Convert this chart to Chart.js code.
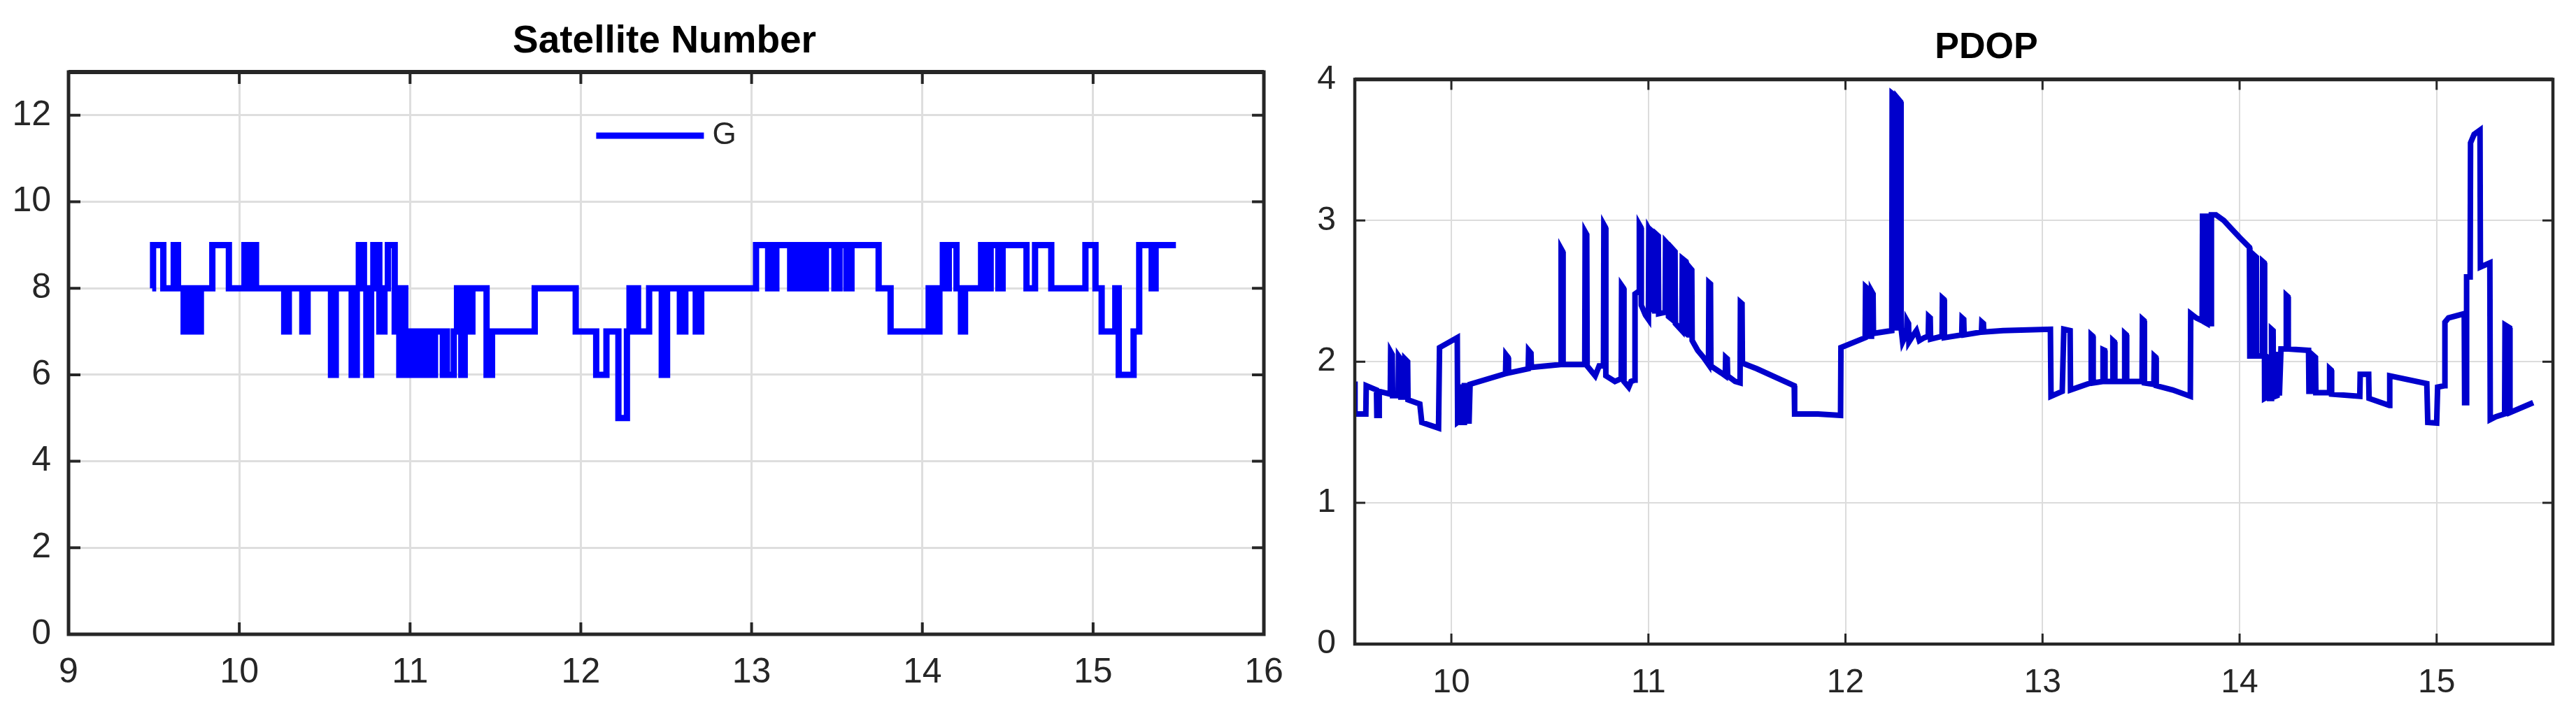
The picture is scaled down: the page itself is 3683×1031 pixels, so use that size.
<!DOCTYPE html>
<html>
<head>
<meta charset="utf-8">
<title>Satellite Number / PDOP</title>
<script src="https://cdn.jsdelivr.net/npm/chart.js@4.4.0/dist/chart.umd.min.js"></script>
<style>
  html, body { margin: 0; padding: 0; background: #fff; overflow: hidden; }
  body { width: 3683px; height: 1031px; position: relative; }
  canvas { position: absolute; top: 0; }
  #satChart { left: 0; }
  #pdopChart { left: 1830px; }
</style>
</head>
<body>
<canvas id="satChart" width="1900" height="1031"></canvas>
<canvas id="pdopChart" width="2020" height="1031"></canvas>
<script>
// satellite count (GPS), each value holds from its time until the next one
const satTime = [
  9.490, 9.495, 9.555, 9.616, 9.641, 9.674, 9.690, 9.700, 9.718, 9.728, 9.752, 9.760, 9.775, 9.842, 9.939,
  10.030, 10.045, 10.055, 10.070, 10.078, 10.098, 10.263, 10.290, 10.369, 10.400, 10.537, 10.565, 10.658, 10.688,
  10.700, 10.730, 10.744, 10.772, 10.785, 10.820, 10.850, 10.870, 10.910, 10.925, 10.937, 10.955, 10.972,
  10.991, 11.005, 11.012, 11.046, 11.064, 11.082, 11.100, 11.118, 11.126, 11.146, 11.192, 11.208, 11.216, 11.256,
  11.275, 11.300, 11.320, 11.350, 11.365, 11.448, 11.480, 11.730, 11.970,
  12.090, 12.150, 12.220, 12.270, 12.285, 12.300, 12.320, 12.335, 12.355, 12.400, 12.474, 12.505, 12.580, 12.612,
  12.673, 12.705,
  13.026, 13.097, 13.115, 13.130, 13.145, 13.226, 13.260, 13.285, 13.320, 13.344, 13.375, 13.402, 13.435, 13.485,
  13.515, 13.555, 13.585, 13.744, 13.814,
  14.037, 14.050, 14.065, 14.080, 14.100, 14.120, 14.140, 14.155, 14.200, 14.226, 14.250, 14.344, 14.378, 14.400,
  14.445, 14.470, 14.610, 14.660, 14.755, 14.955,
  15.014, 15.050, 15.130, 15.150, 15.237, 15.270, 15.343, 15.366, 15.485
];
const satCount = [
  8, 9, 8, 9, 8, 7, 8, 7, 8, 7, 8, 7, 8, 9, 8,
  9, 8, 9, 8, 9, 8, 7, 8, 7, 8, 6, 8, 6, 8,
  9, 8, 6, 8, 9, 7, 8, 9, 7, 8, 6, 8, 6,
  6, 7, 6, 7, 6, 7, 6, 7, 6, 7, 6, 7, 6, 7,
  8, 6, 8, 7, 8, 6, 7, 8, 7,
  6, 7, 5, 7, 8, 7, 8, 7, 7, 8, 6, 8, 7, 8,
  7, 8,
  9, 8, 9, 8, 9, 8, 9, 8, 9, 8, 9, 8, 9, 8,
  9, 8, 9, 8, 7,
  8, 7, 8, 7, 8, 9, 8, 9, 8, 7, 8, 9, 8, 9,
  8, 9, 8, 9, 8, 9,
  8, 7, 8, 6, 7, 9, 8, 9, 9
];
const satXTicks = [9, 10, 11, 12, 13, 14, 15, 16];
const satYTicks = [0, 2, 4, 6, 8, 10, 12];

// PDOP
const pdopTime = [
  9.510, 9.511, 9.566, 9.568, 9.620, 9.622, 9.632, 9.634, 9.690, 9.692, 9.700, 9.702, 9.730, 9.732, 9.742, 9.744,
  9.762, 9.764, 9.778, 9.780, 9.840, 9.850, 9.935, 9.940,
  10.030, 10.032, 10.042, 10.044, 10.052, 10.054, 10.064, 10.066, 10.074, 10.076, 10.090, 10.095, 10.275, 10.277,
  10.288, 10.290, 10.390, 10.392, 10.404, 10.406, 10.555, 10.557, 10.565, 10.567, 10.677, 10.679, 10.687, 10.689,
  10.730, 10.750, 10.772, 10.774, 10.782, 10.784, 10.830, 10.862, 10.864, 10.874, 10.876, 10.900, 10.912, 10.930,
  10.932, 10.952, 10.954, 10.962, 10.964, 10.985,
  11.000, 11.002, 11.010, 11.012, 11.020, 11.022, 11.030, 11.032, 11.040, 11.042, 11.050, 11.052, 11.085, 11.087,
  11.100, 11.102, 11.120, 11.122, 11.135, 11.137, 11.170, 11.172, 11.190, 11.192, 11.200, 11.202, 11.220, 11.222,
  11.250, 11.280, 11.305, 11.307, 11.315, 11.317, 11.370, 11.390, 11.392, 11.400, 11.402, 11.440, 11.465, 11.467,
  11.475, 11.477, 11.550, 11.740, 11.742, 11.860, 11.975, 11.977,
  12.100, 12.102, 12.118, 12.120, 12.130, 12.132, 12.140, 12.142, 12.235, 12.237, 12.255, 12.257, 12.262, 12.280,
  12.282, 12.290, 12.310, 12.312, 12.320, 12.322, 12.345, 12.360, 12.375, 12.400, 12.420, 12.422, 12.430, 12.432,
  12.490, 12.492, 12.500, 12.502, 12.590, 12.592, 12.600, 12.602, 12.690, 12.692, 12.700, 12.702, 12.800,
  13.040, 13.043, 13.100, 13.108, 13.140, 13.142, 13.245, 13.247, 13.255, 13.257, 13.305, 13.307, 13.315, 13.317,
  13.355, 13.357, 13.365, 13.367, 13.415, 13.417, 13.425, 13.427, 13.505, 13.507, 13.515, 13.517, 13.565, 13.567,
  13.575, 13.577, 13.660, 13.750, 13.752, 13.780, 13.810, 13.812, 13.820, 13.822, 13.835, 13.837, 13.845, 13.847,
  13.855, 13.857, 13.880, 13.920, 13.960,
  14.000, 14.050, 14.052, 14.075, 14.077, 14.085, 14.087, 14.115, 14.117, 14.125, 14.127, 14.140, 14.142, 14.150,
  14.152, 14.160, 14.162, 14.170, 14.172, 14.190, 14.192, 14.200, 14.202, 14.210, 14.235, 14.237, 14.245, 14.247,
  14.350, 14.352, 14.375, 14.377, 14.385, 14.387, 14.455, 14.457, 14.465, 14.467, 14.610, 14.612, 14.655, 14.657,
  14.760, 14.762, 14.950, 14.955,
  15.000, 15.005, 15.040, 15.042, 15.060, 15.140, 15.142, 15.150, 15.152, 15.170, 15.172, 15.190, 15.220, 15.222,
  15.270, 15.272, 15.300, 15.345, 15.347, 15.370, 15.372, 15.490
];
const pdopValue = [
  1.86, 1.63, 1.63, 1.83, 1.80, 1.62, 1.62, 1.79, 1.77, 2.07, 2.05, 1.76, 1.76, 2.04, 2.02, 1.75,
  1.75, 2.02, 2.00, 1.73, 1.70, 1.57, 1.53, 2.10,
  2.17, 1.57, 1.58, 1.82, 1.82, 1.57, 1.57, 1.83, 1.83, 1.58, 1.58, 1.84, 1.915, 2.05,
  2.03, 1.92, 1.95, 2.08, 2.06, 1.96, 1.98, 2.80, 2.78, 1.98, 1.98, 2.92, 2.90, 1.97,
  1.90, 1.97, 1.97, 2.97, 2.95, 1.90, 1.86, 1.88, 2.54, 2.52, 1.86, 1.82, 1.86, 1.87,
  2.48, 2.50, 2.97, 2.95, 2.40, 2.33,
  2.30, 2.94, 2.92, 2.38, 2.37, 2.92, 2.91, 2.36, 2.36, 2.90, 2.89, 2.34, 2.35, 2.85,
  2.83, 2.32, 2.30, 2.80, 2.78, 2.27, 2.22, 2.73, 2.71, 2.20, 2.19, 2.68, 2.65, 2.15,
  2.08, 2.03, 1.98, 2.56, 2.55, 1.97, 1.92, 1.90, 2.03, 2.02, 1.90, 1.86, 1.85, 2.42,
  2.41, 1.99, 1.95, 1.83, 1.63, 1.63, 1.62, 2.10,
  2.17, 2.53, 2.51, 2.18, 2.18, 2.50, 2.48, 2.20, 2.22, 3.90, 3.88, 2.22, 3.87, 3.84,
  2.24, 2.14, 2.20, 2.29, 2.27, 2.14, 2.19, 2.22, 2.15, 2.17, 2.18, 2.32, 2.31, 2.16,
  2.18, 2.45, 2.44, 2.17, 2.19, 2.31, 2.30, 2.19, 2.21, 2.28, 2.27, 2.21, 2.22,
  2.23, 1.755, 1.79, 2.23, 2.22, 1.80, 1.85, 2.19, 2.18, 1.85, 1.86, 2.085, 2.08, 1.86,
  1.86, 2.15, 2.14, 1.86, 1.86, 2.20, 2.19, 1.86, 1.86, 2.30, 2.29, 1.85, 1.84, 2.04,
  2.03, 1.83, 1.80, 1.755, 2.34, 2.31, 2.29, 3.03, 3.03, 2.28, 2.27, 3.03, 3.03, 2.27,
  2.27, 3.04, 3.04, 3.00, 2.94,
  2.88, 2.81, 2.04, 2.04, 2.75, 2.74, 2.04, 2.04, 2.71, 2.70, 1.74, 1.75, 2.03, 2.02,
  1.74, 1.74, 2.23, 2.22, 1.75, 1.76, 2.05, 2.05, 1.76, 2.09, 2.09, 2.47, 2.46, 2.09,
  2.08, 1.79, 1.79, 2.04, 2.03, 1.78, 1.78, 1.95, 1.94, 1.77, 1.755, 1.91, 1.91, 1.74,
  1.69, 1.90, 1.845, 1.57,
  1.565, 1.82, 1.83, 2.28, 2.31, 2.34, 1.71, 1.71, 2.60, 2.60, 3.55, 3.61, 3.64, 2.67,
  2.70, 1.59, 1.61, 1.63, 2.26, 2.24, 1.64, 1.71
];
const pdopXTicks = [10, 11, 12, 13, 14, 15];
const pdopYTicks = [0, 1, 2, 3, 4];

Chart.defaults.font.family = "'Liberation Sans', Arial, Helvetica, sans-serif";
Chart.defaults.color = '#262626';

function toPoints(xs, ys) {
    return xs.map((x, i) => ({ x: x, y: ys[i] }));
}

function fixedTicks(list) {
    return scale => { scale.ticks = list.map(v => ({ value: v })); };
}

// closed axes box with the tick marks pointing inwards on all four sides
const axesBox = {
    id: 'axesBox',
    afterDraw(chart, args, opts) {
        const { ctx, chartArea: a, scales: { x, y } } = chart;
        const len = opts.tickLength;
        ctx.save();
        ctx.strokeStyle = opts.color;
        ctx.lineWidth = opts.tickWidth;
        ctx.beginPath();
        x.ticks.forEach(t => {
            const px = x.getPixelForValue(t.value);
            ctx.moveTo(px, a.bottom); ctx.lineTo(px, a.bottom - len);
            ctx.moveTo(px, a.top); ctx.lineTo(px, a.top + len);
        });
        y.ticks.forEach(t => {
            const py = y.getPixelForValue(t.value);
            ctx.moveTo(a.left, py); ctx.lineTo(a.left + len, py);
            ctx.moveTo(a.right, py); ctx.lineTo(a.right - len, py);
        });
        ctx.stroke();
        ctx.lineWidth = opts.width;
        ctx.strokeRect(a.left, a.top, a.right - a.left, a.bottom - a.top);
        ctx.lineWidth = opts.topWidth;
        ctx.beginPath();
        ctx.moveTo(a.left, a.top); ctx.lineTo(a.right, a.top);
        ctx.stroke();
        ctx.restore();
    }
};

// legend sitting inside the plot, line sample + label
const lineLegend = {
    id: 'lineLegend',
    afterDraw(chart, args, opts) {
        const ds = chart.data.datasets[0];
        const { ctx, chartArea: a } = chart;
        ctx.save();
        ctx.font = opts.size + 'px ' + Chart.defaults.font.family;
        const textW = ctx.measureText(ds.label).width;
        const x0 = (a.left + a.right) / 2 - (opts.lineLength + opts.gap + textW) / 2;
        const yc = a.top + opts.offsetY;
        ctx.strokeStyle = ds.borderColor;
        ctx.lineWidth = ds.borderWidth;
        ctx.beginPath();
        ctx.moveTo(x0, yc);
        ctx.lineTo(x0 + opts.lineLength, yc);
        ctx.stroke();
        ctx.fillStyle = opts.color;
        ctx.textAlign = 'left';
        ctx.textBaseline = 'middle';
        ctx.fillText(ds.label, x0 + opts.lineLength + opts.gap, yc);
        ctx.restore();
    }
};

new Chart(document.getElementById('satChart'), {
    type: 'line',
    data: {
        datasets: [{
            label: 'G',
            data: toPoints(satTime, satCount),
            borderColor: '#0000ff',
            borderWidth: 9,
            stepped: true,
            pointRadius: 0,
            fill: false
        }]
    },
    options: {
        responsive: false,
        animation: false,
        events: [],
        layout: { padding: 0 },
        scales: {
            x: {
                type: 'linear', min: 9, max: 16,
                afterBuildTicks: fixedTicks(satXTicks),
                afterFit: s => { s.height = 124; },
                grid: { color: '#dedede', lineWidth: 3, drawTicks: false },
                border: { display: false },
                ticks: { font: { size: 50 }, padding: 25, maxRotation: 0, autoSkip: false }
            },
            y: {
                min: 0, max: 13,
                afterBuildTicks: fixedTicks(satYTicks),
                afterFit: s => { s.width = 98; },
                grid: { color: '#dedede', lineWidth: 3, drawTicks: false },
                border: { display: false },
                ticks: { font: { size: 50 }, padding: 25 }
            },
            yr: {
                position: 'right', min: 0, max: 13,
                afterFit: s => { s.width = 93; },
                grid: { display: false },
                border: { display: false },
                ticks: { display: false }
            }
        },
        plugins: {
            legend: { display: false },
            tooltip: { enabled: false },
            title: {
                display: true,
                text: 'Satellite Number',
                color: '#000',
                font: { size: 55, weight: 'bold' },
                padding: { top: 27, bottom: 10 }
            },
            axesBox: { color: '#262626', width: 5, topWidth: 6, tickWidth: 4, tickLength: 17 },
            lineLegend: { size: 44, lineLength: 154, gap: 12, offsetY: 91, color: '#262626' }
        }
    },
    plugins: [axesBox, lineLegend]
});

new Chart(document.getElementById('pdopChart'), {
    type: 'line',
    data: {
        datasets: [{
            label: 'PDOP',
            data: toPoints(pdopTime, pdopValue),
            borderColor: '#0000cc',
            borderWidth: 8,
            pointRadius: 0,
            fill: false
        }]
    },
    options: {
        responsive: false,
        animation: false,
        events: [],
        layout: { padding: 0 },
        scales: {
            x: {
                type: 'linear', min: 9.51, max: 15.59,
                afterBuildTicks: fixedTicks(pdopXTicks),
                afterFit: s => { s.height = 110; },
                grid: { color: '#dcdcdc', lineWidth: 2, drawTicks: false },
                border: { display: false },
                ticks: { font: { size: 48 }, padding: 27, maxRotation: 0, autoSkip: false }
            },
            y: {
                min: 0, max: 4,
                afterBuildTicks: fixedTicks(pdopYTicks),
                afterFit: s => { s.width = 107; },
                grid: { color: '#dcdcdc', lineWidth: 2, drawTicks: false },
                border: { display: false },
                ticks: { font: { size: 48 }, padding: 27 }
            },
            yr: {
                position: 'right', min: 0, max: 4,
                afterFit: s => { s.width = 200; },
                grid: { display: false },
                border: { display: false },
                ticks: { display: false }
            }
        },
        plugins: {
            legend: { display: false },
            tooltip: { enabled: false },
            title: {
                display: true,
                text: 'PDOP',
                color: '#000',
                font: { size: 52, weight: 'bold' },
                padding: { top: 37, bottom: 14 }
            },
            axesBox: { color: '#262626', width: 4.5, topWidth: 5.5, tickWidth: 3, tickLength: 15 }
        }
    },
    plugins: [axesBox]
});
</script>
</body>
</html>
